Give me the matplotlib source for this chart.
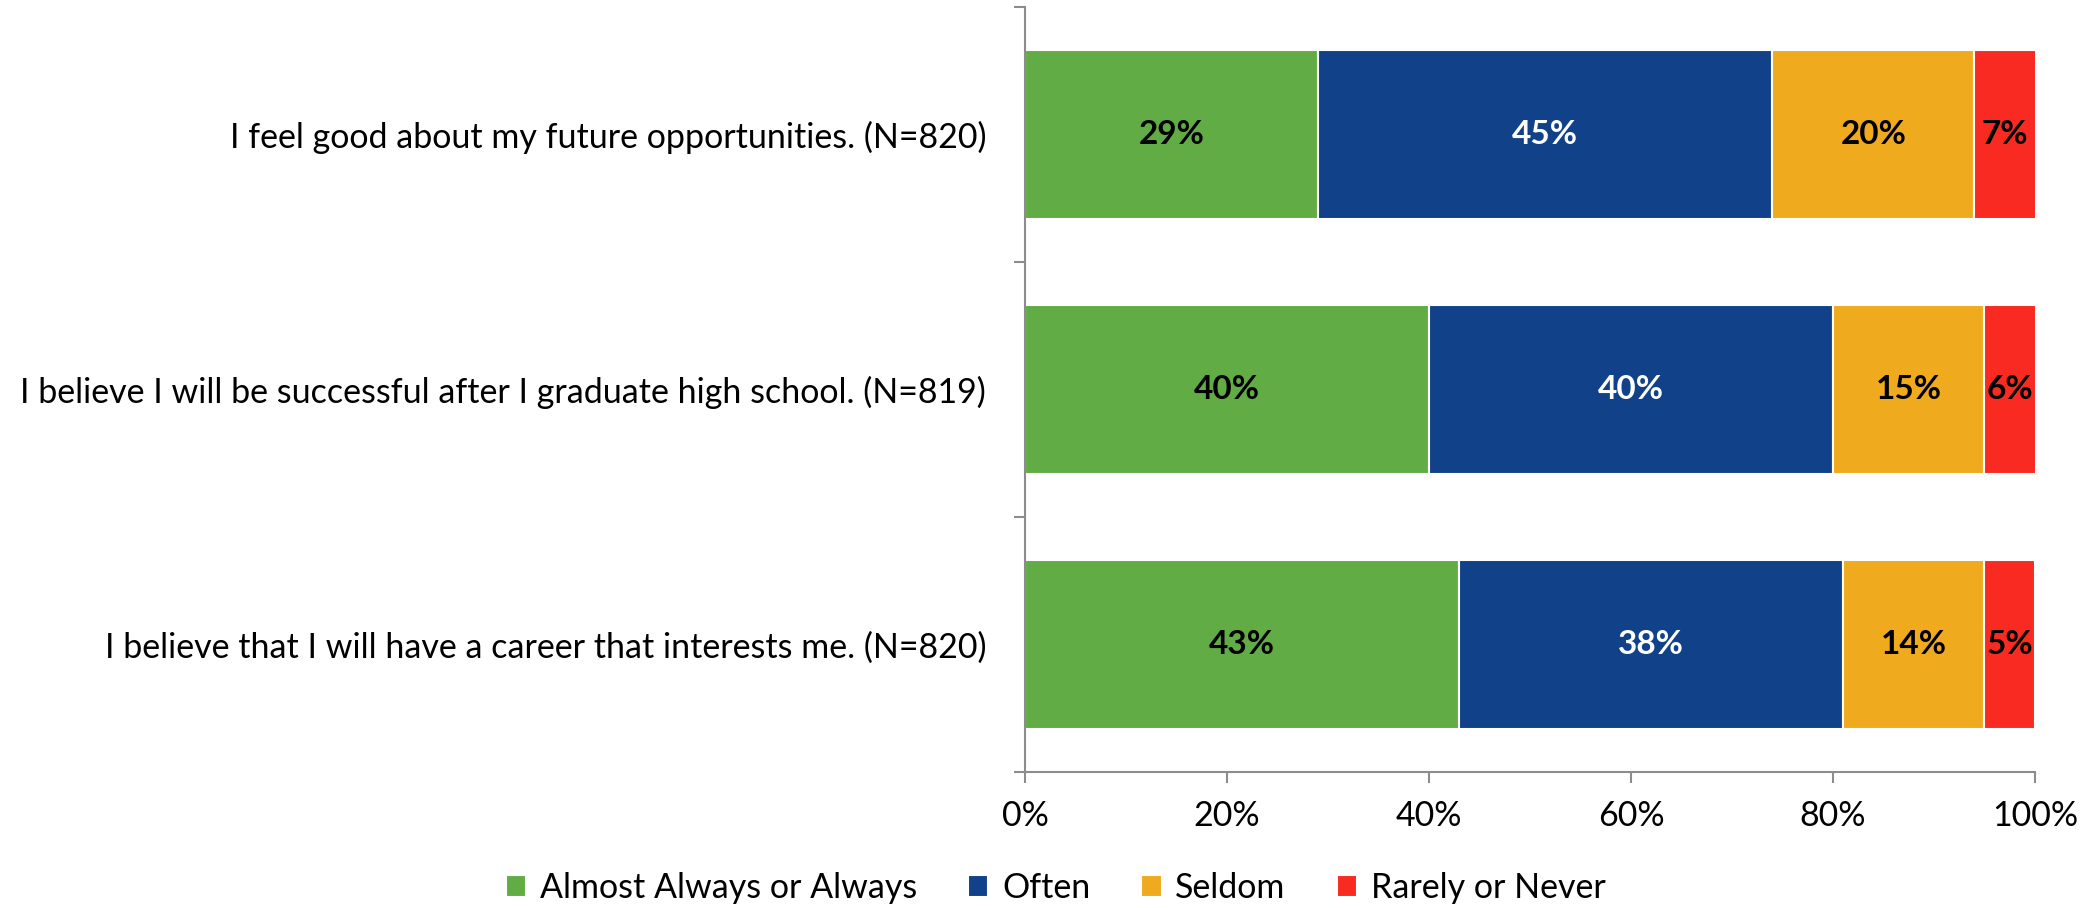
import matplotlib
matplotlib.use("Agg")
from matplotlib import pyplot as plt
import numpy as np

plt.rcParams['font.family'] = ['Lato', 'DejaVu Sans']

questions = [
    "I feel good about my future opportunities. (N=820)",
    "I believe I will be successful after I graduate high school. (N=819)",
    "I believe that I will have a career that interests me. (N=820)",
]
series_names = ["Almost Always or Always", "Often", "Seldom", "Rarely or Never"]
almost_always = [29, 40, 43]
often = [45, 40, 38]
seldom = [20, 15, 14]
rarely = [7, 6, 5]

colors = ["#62AC46", "#114189", "#F0AA1E", "#F92A21"]
text_colors = ["black", "white", "black", "black"]

fig = plt.figure(figsize=(20.86, 9.08), dpi=100)
ax = fig.add_axes([0.4914, 0.1498, 0.4841, 0.8425])

y = np.arange(len(questions))
left = np.zeros(len(questions))
all_series = [almost_always, often, seldom, rarely]
for name, vals, col, tcol in zip(series_names, all_series, colors, text_colors):
    vals = np.array(vals, dtype=float)
    ax.barh(y, vals, left=left, height=0.66, color=col, edgecolor="white",
            linewidth=1.5, label=name)
    for i in range(len(vals)):
        right = min(left[i] + vals[i], 100)
        ax.text((left[i] + right) / 2, y[i], f"{vals[i]:.0f}%", ha="center",
                va="center", fontsize=24, fontweight="bold", color=tcol)
    left += vals

ax.set_xlim(0, 100)
ax.set_ylim(2.5, -0.5)
ax.set_xticks(np.arange(0, 101, 20))
ax.set_xticklabels([f"{v}%" for v in range(0, 101, 20)], fontsize=24.5)
ax.set_yticks(y)
ax.set_yticklabels(questions, fontsize=24.5)
ax.tick_params(axis="y", length=0, pad=28)
ax.set_yticks([-0.5, 0.5, 1.5, 2.5], minor=True)
ax.tick_params(axis="y", which="minor", length=8, color="#8c8c8c", width=1.5)
ax.tick_params(axis="x", length=8, color="#8c8c8c", width=1.5, pad=12)

for s in ["top", "right"]:
    ax.spines[s].set_visible(False)
for s in ["left", "bottom"]:
    ax.spines[s].set_color("#8c8c8c")
    ax.spines[s].set_linewidth(1.5)

handles, labels = ax.get_legend_handles_labels()
fig.legend(handles, labels, loc="center", bbox_to_anchor=(0.506, 0.022), ncol=4,
           frameon=False, fontsize=24.5, handlelength=0.6, handleheight=0.6,
           handletextpad=0.4, columnspacing=1.5)

fig.savefig("out.png", dpi=100)
